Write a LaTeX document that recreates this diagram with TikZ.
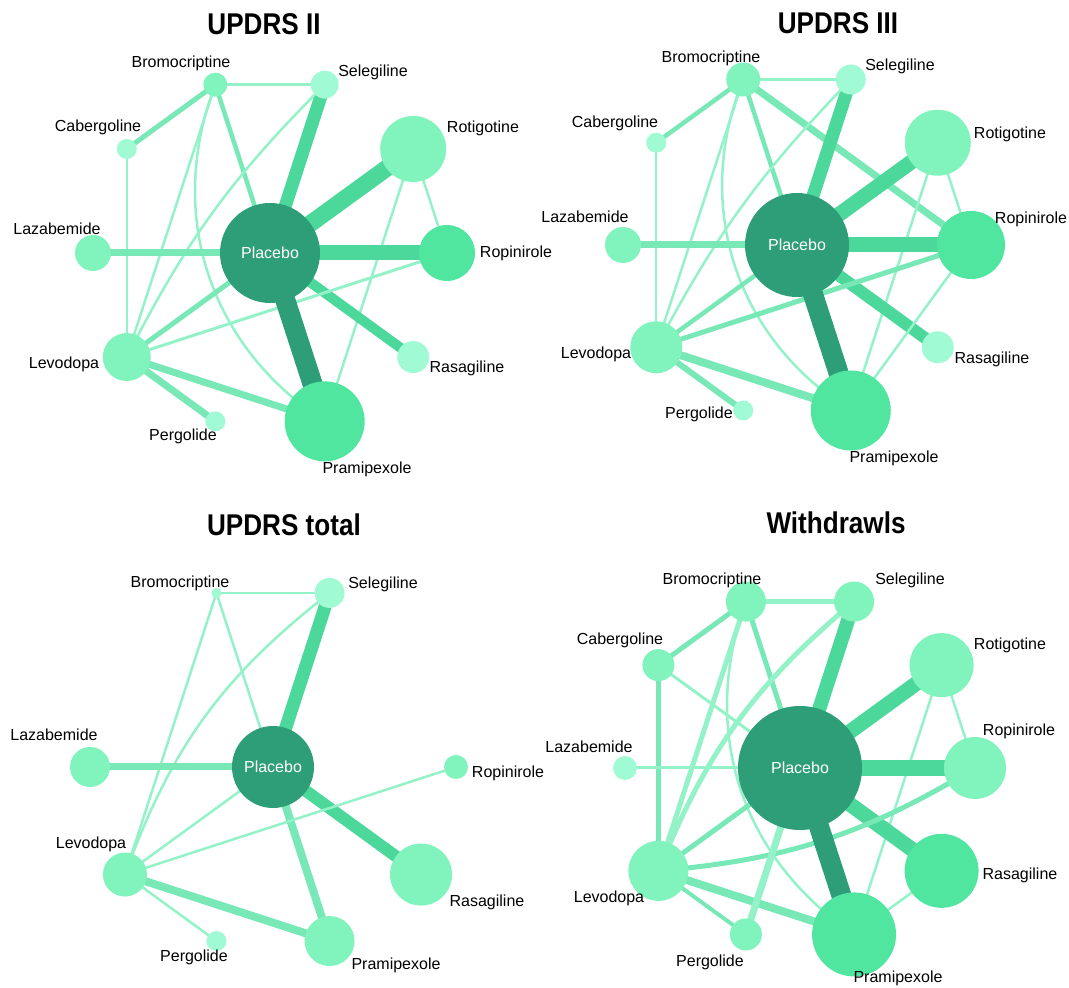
\documentclass[tikz,border=0pt]{standalone}
\usepackage{fontspec}
\usepackage{graphicx}
\setmainfont{Liberation Sans}
\usetikzlibrary{backgrounds}
\definecolor{cD}{RGB}{46,158,120}
\definecolor{cM}{RGB}{80,230,160}
\definecolor{cL}{RGB}{128,244,188}
\definecolor{cX}{RGB}{160,250,212}
\definecolor{ceL}{RGB}{148,242,200}
\definecolor{ceM}{RGB}{120,232,182}
\definecolor{ceT}{RGB}{76,216,154}
\begin{document}
\begin{tikzpicture}[x=1pt,y=1pt,
  nd/.style={circle,fill=#1,draw=none,inner sep=0pt},
  lab/.style={font=\fontsize{16}{18}\selectfont,anchor=base,inner sep=0pt},
  ttl/.style={font=\fontsize{30}{32}\selectfont\bfseries,anchor=base,inner sep=0pt},
  eL/.style={draw=ceL,line width=#1}, eL/.default=2.5pt,
  eM/.style={draw=ceM,line width=#1}, eM/.default=5pt,
  eT/.style={draw=ceT,line width=#1}, eT/.default=13pt,
  eD/.style={draw=cD,line width=#1}, eD/.default=20pt]
\useasboundingbox (0,0) rectangle (1069,988);

% ---------------- Panel A: UPDRS II ----------------
\begin{scope}[shift={(270,735)}]
\node[ttl] (aT) at (-6,218) {\scalebox{0.87}[1]{UPDRS II}};
\node[nd=cD,minimum size=100pt,text=white,font=\fontsize{16}{18}\selectfont] (aPla) at (0,0) {Placebo};
\node[nd=cM,minimum size=56pt] (aRop) at (0:177) {};
\node[nd=cL,minimum size=66pt] (aRot) at (36:177) {};
\node[nd=cX,minimum size=28pt] (aSel) at (72:177) {};
\node[nd=cL,minimum size=24pt] (aBro) at (108:177) {};
\node[nd=cX,minimum size=20pt] (aCab) at (144:177) {};
\node[nd=cL,minimum size=36pt] (aLaz) at (180:177) {};
\node[nd=cL,minimum size=48pt] (aLev) at (216:177) {};
\node[nd=cX,minimum size=20pt] (aPer) at (252:177) {};
\node[nd=cM,minimum size=80pt] (aPra) at (288:177) {};
\node[nd=cX,minimum size=32pt] (aRas) at (324:177) {};
\node[lab] (aBroL) at (-89,185) {Bromocriptine};
\node[lab] (aSelL) at (103,176) {Selegiline};
\node[lab] (aCabL) at (-172,121) {Cabergoline};
\node[lab] (aRotL) at (213,120) {Rotigotine};
\node[lab] (aLazL) at (-213,18) {Lazabemide};
\node[lab] (aRopL) at (246,-5) {Ropinirole};
\node[lab] (aLevL) at (-206,-116) {Levodopa};
\node[lab] (aRasL) at (197,-120) {Rasagiline};
\node[lab] (aPerL) at (-87,-188) {Pergolide};
\node[lab] (aPraL) at (97,-221) {Pramipexole};
\begin{pgfonlayer}{background}
\draw[eL] (aBro.center) -- (aSel.center);
\draw[eM] (aBro.center) -- (aCab.center);
\draw[eM=4.5pt] (aBro.center) -- (aPla.center);
\draw[eL] (aBro.center) -- (aLev.center);
\draw[eL] (aBro.center) to[bend right=39] (aPra.center);
\draw[eT=13pt] (aSel.center) -- (aPla.center);
\draw[eL] (aSel.center) to[bend right=9] (aLev.center);
\draw[eL] (aCab.center) -- (aLev.center);
\draw[eT=17pt] (aRot.center) -- (aPla.center);
\draw[eL] (aRot.center) -- (aRop.center);
\draw[eL] (aRot.center) -- (aPra.center);
\draw[eM=7pt] (aLaz.center) -- (aPla.center);
\draw[eT=15pt] (aPla.center) -- (aRop.center);
\draw[eM] (aPla.center) -- (aLev.center);
\draw[eT=10pt] (aPla.center) -- (aRas.center);
\draw[eL=3pt] (aRop.center) -- (aLev.center);
\draw[eM=7pt] (aLev.center) -- (aPra.center);
\draw[eM=7pt] (aLev.center) -- (aPer.center);
\draw[eD] (aPla.center) -- (aPra.center);
\end{pgfonlayer}
\end{scope}

% ---------------- Panel B: UPDRS III ----------------
\begin{scope}[shift={(797,743)}]
\node[ttl] (bT) at (41,211) {\scalebox{0.87}[1]{UPDRS III}};
\node[nd=cD,minimum size=104pt,text=white,font=\fontsize{16}{18}\selectfont] (bPla) at (0,0) {Placebo};
\node[nd=cM,minimum size=68pt] (bRop) at (0:174) {};
\node[nd=cL,minimum size=66pt] (bRot) at (36:174) {};
\node[nd=cX,minimum size=30pt] (bSel) at (72:174) {};
\node[nd=cL,minimum size=34pt] (bBro) at (108:174) {};
\node[nd=cX,minimum size=20pt] (bCab) at (144:174) {};
\node[nd=cL,minimum size=36pt] (bLaz) at (180:174) {};
\node[nd=cL,minimum size=52pt] (bLev) at (216:174) {};
\node[nd=cX,minimum size=20pt] (bPer) at (252:174) {};
\node[nd=cM,minimum size=80pt] (bPra) at (288:174) {};
\node[nd=cX,minimum size=32pt] (bRas) at (324:174) {};
\node[lab] (bBroL) at (-86,182) {Bromocriptine};
\node[lab] (bSelL) at (103,174) {Selegiline};
\node[lab] (bCabL) at (-182,117) {Cabergoline};
\node[lab] (bRotL) at (213,106) {Rotigotine};
\node[lab] (bLazL) at (-212,22) {Lazabemide};
\node[lab] (bRopL) at (234,21) {Ropinirole};
\node[lab] (bLevL) at (-201,-114) {Levodopa};
\node[lab] (bRasL) at (195,-119) {Rasagiline};
\node[lab] (bPerL) at (-98,-174) {Pergolide};
\node[lab] (bPraL) at (97,-218) {Pramipexole};
\begin{pgfonlayer}{background}
\draw[eL] (bBro.center) -- (bSel.center);
\draw[eM=4.5pt] (bBro.center) -- (bCab.center);
\draw[eM=4.5pt] (bBro.center) -- (bPla.center);
\draw[eM=7pt] (bBro.center) -- (bRop.center);
\draw[eL] (bBro.center) -- (bLev.center);
\draw[eL] (bBro.center) to[bend right=40] (bPra.center);
\draw[eT=13pt] (bSel.center) -- (bPla.center);
\draw[eL] (bSel.center) to[bend right=8] (bLev.center);
\draw[eL] (bCab.center) -- (bLev.center);
\draw[eT=15pt] (bRot.center) -- (bPla.center);
\draw[eL] (bRot.center) -- (bRop.center);
\draw[eL] (bRot.center) -- (bPra.center);
\draw[eM=7pt] (bLaz.center) -- (bPla.center);
\draw[eT=15pt] (bPla.center) -- (bRop.center);
\draw[eM=4.5pt] (bPla.center) -- (bLev.center);
\draw[eT=12pt] (bPla.center) -- (bRas.center);
\draw[eM] (bRop.center) -- (bLev.center);
\draw[eL] (bRop.center) -- (bPra.center);
\draw[eM=8pt] (bLev.center) -- (bPra.center);
\draw[eM=6pt] (bLev.center) -- (bPer.center);
\draw[eD] (bPla.center) -- (bPra.center);
\end{pgfonlayer}
\end{scope}

% ---------------- Panel C: UPDRS total ----------------
\begin{scope}[shift={(273,221)}]
\node[ttl] (cT) at (11,231) {\scalebox{0.87}[1]{UPDRS total}};
\node[nd=cD,minimum size=82pt,text=white,font=\fontsize{16}{18}\selectfont] (cPla) at (0,0) {Placebo};
\node[nd=cL,minimum size=24pt] (cRop) at (0:183) {};
\node[nd=cX,minimum size=30pt] (cSel) at (72:183) {};
\node[nd=cX,minimum size=10pt] (cBro) at (108:183) {};
\node[nd=cL,minimum size=40pt] (cLaz) at (180:183) {};
\node[nd=cL,minimum size=44pt] (cLev) at (216:183) {};
\node[nd=cX,minimum size=20pt] (cPer) at (252:183) {};
\node[nd=cL,minimum size=50pt] (cPra) at (288:183) {};
\node[nd=cL,minimum size=62pt] (cRas) at (324:183) {};
\node[lab] (cBroL) at (-93,179) {Bromocriptine};
\node[lab] (cSelL) at (110,178) {Selegiline};
\node[lab] (cLazL) at (-219,26) {Lazabemide};
\node[lab] (cRopL) at (235,-11) {Ropinirole};
\node[lab] (cLevL) at (-182,-82) {Levodopa};
\node[lab] (cRasL) at (214,-140) {Rasagiline};
\node[lab] (cPerL) at (-79,-195) {Pergolide};
\node[lab] (cPraL) at (123,-203) {Pramipexole};
\begin{pgfonlayer}{background}
\draw[eL] (cBro.center) -- (cSel.center);
\draw[eL] (cBro.center) -- (cPla.center);
\draw[eL] (cBro.center) -- (cLev.center);
\draw[eT=13pt] (cSel.center) -- (cPla.center);
\draw[eL] (cSel.center) to[bend right=16] (cLev.center);
\draw[eM=7pt] (cLaz.center) -- (cPla.center);
\draw[eL] (cPla.center) -- (cLev.center);
\draw[eT=12pt] (cPla.center) -- (cRas.center);
\draw[eM=8pt] (cPla.center) -- (cPra.center);
\draw[eL] (cLev.center) -- (cRop.center);
\draw[eM=8pt] (cLev.center) -- (cPra.center);
\draw[eL] (cLev.center) -- (cPer.center);
\end{pgfonlayer}
\end{scope}

% ---------------- Panel D: Withdrawls ----------------
\begin{scope}[shift={(800,220)}]
\node[ttl] (dT) at (36,234) {\scalebox{0.87}[1]{Withdrawls}};
\node[nd=cD,minimum size=124pt,text=white,font=\fontsize{16}{18}\selectfont] (dPla) at (0,0) {Placebo};
\node[nd=cL,minimum size=62pt] (dRop) at (0:175) {};
\node[nd=cL,minimum size=64pt] (dRot) at (36:175) {};
\node[nd=cL,minimum size=40pt] (dSel) at (72:175) {};
\node[nd=cL,minimum size=40pt] (dBro) at (108:175) {};
\node[nd=cL,minimum size=32pt] (dCab) at (144:175) {};
\node[nd=cX,minimum size=24pt] (dLaz) at (180:175) {};
\node[nd=cL,minimum size=60pt] (dLev) at (216:175) {};
\node[nd=cL,minimum size=32pt] (dPer) at (252:175) {};
\node[nd=cM,minimum size=84pt] (dPra) at (288:175) {};
\node[nd=cM,minimum size=74pt] (dRas) at (324:175) {};
\node[lab] (dBroL) at (-88,183) {Bromocriptine};
\node[lab] (dSelL) at (110,183) {Selegiline};
\node[lab] (dCabL) at (-180,123) {Cabergoline};
\node[lab] (dRotL) at (210,118) {Rotigotine};
\node[lab] (dLazL) at (-211,15) {Lazabemide};
\node[lab] (dRopL) at (219,32) {Ropinirole};
\node[lab] (dLevL) at (-191,-135) {Levodopa};
\node[lab] (dRasL) at (220,-112) {Rasagiline};
\node[lab] (dPerL) at (-90,-199) {Pergolide};
\node[lab] (dPraL) at (98,-215) {Pramipexole};
\begin{pgfonlayer}{background}
\draw[eL=5pt] (dBro.center) -- (dSel.center);
\draw[eM] (dBro.center) -- (dCab.center);
\draw[eM] (dBro.center) -- (dPla.center);
\draw[eL=5pt] (dBro.center) -- (dLev.center);
\draw[eL] (dBro.center) to[bend right=38] (dPra.center);
\draw[eT=14pt] (dSel.center) -- (dPla.center);
\draw[eL=5pt] (dSel.center) to[bend right=14] (dLev.center);
\draw[eM] (dCab.center) -- (dLev.center);
\draw[eL=3pt] (dCab.center) -- (dPla.center);
\draw[eT=15pt] (dRot.center) -- (dPla.center);
\draw[eL] (dRot.center) -- (dRop.center);
\draw[eL] (dRot.center) -- (dPra.center);
\draw[eL=3pt] (dLaz.center) -- (dPla.center);
\draw[eT=16pt] (dPla.center) -- (dRop.center);
\draw[eT=15pt] (dPla.center) -- (dRas.center);
\draw[eM] (dPla.center) -- (dLev.center);
\draw[eM] (dLev.center) to[bend right=13] (dRop.center);
\draw[eM=8pt] (dLev.center) -- (dPra.center);
\draw[eM=4pt] (dLev.center) -- (dPer.center);
\draw[eL] (dRas.center) -- (dPra.center);
\draw[eD] (dPla.center) -- (dPra.center);
\draw[eL=7pt] (dPla.center) -- (dPer.center);
\end{pgfonlayer}
\end{scope}
\end{tikzpicture}
\end{document}
